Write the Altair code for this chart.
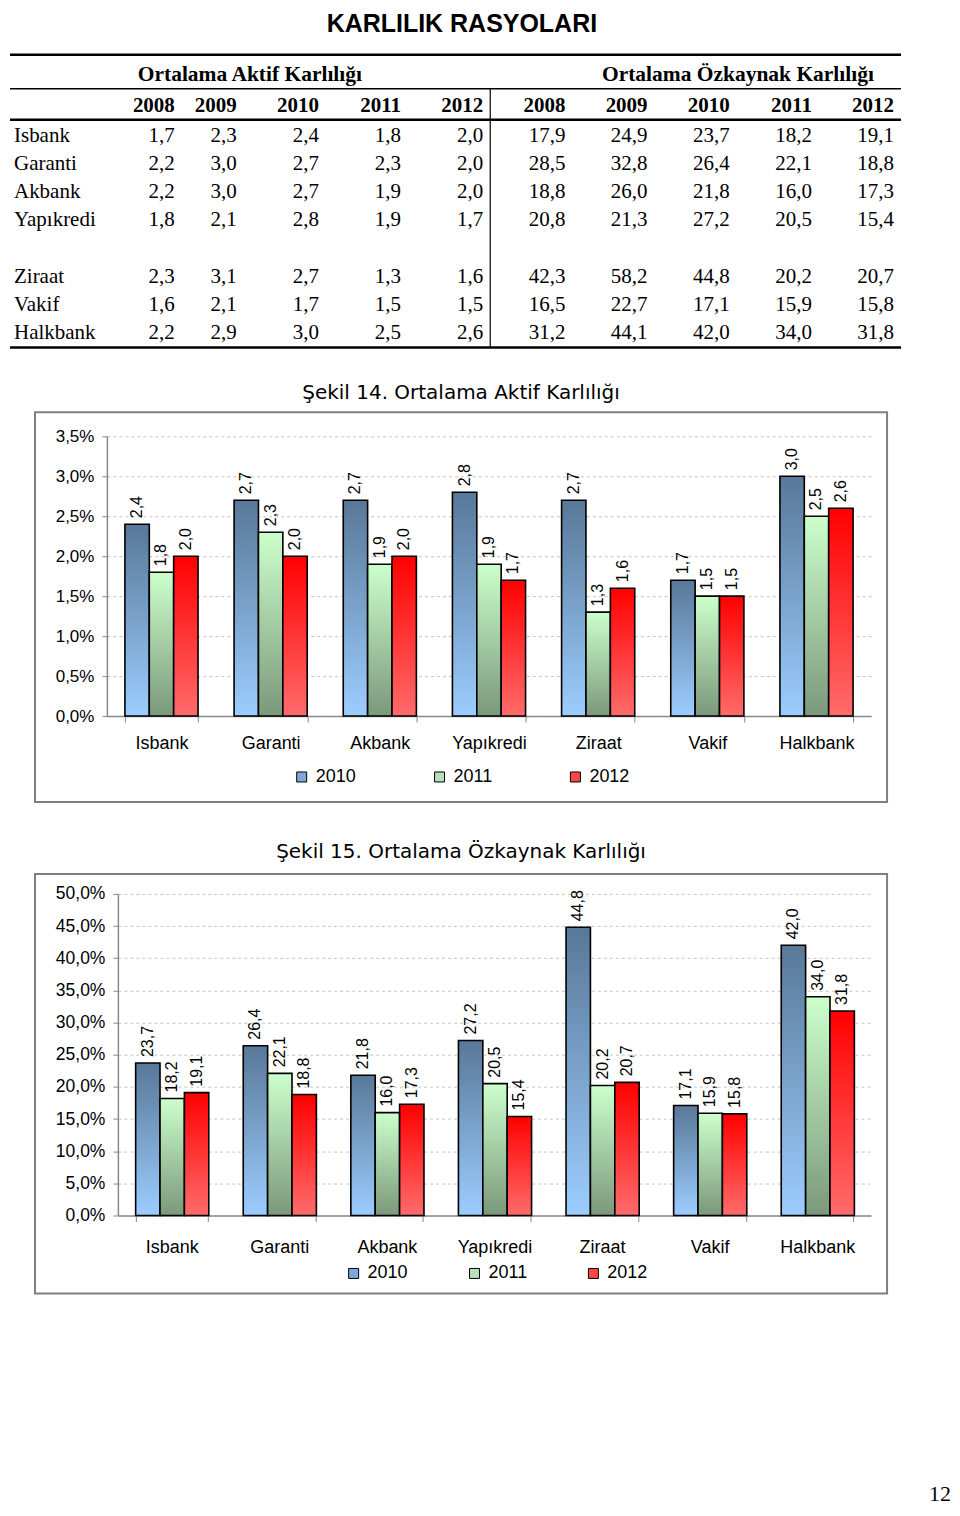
import altair as alt
import pandas as pd

# ---------------- data ----------------
BANKS = ["Isbank", "Garanti", "Akbank", "Yapıkredi", "Ziraat", "Vakif", "Halkbank"]
YEARS = ["2008", "2009", "2010", "2011", "2012"]
CHART_YEARS = ["2010", "2011", "2012"]

AKTIF_2008 = [1.7, 2.2, 2.2, 1.8, 2.3, 1.6, 2.2]
AKTIF_2009 = [2.3, 3.0, 3.0, 2.1, 3.1, 2.1, 2.9]
AKTIF_2010 = [2.4, 2.7, 2.7, 2.8, 2.7, 1.7, 3.0]
AKTIF_2011 = [1.8, 2.3, 1.9, 1.9, 1.3, 1.5, 2.5]
AKTIF_2012 = [2.0, 2.0, 2.0, 1.7, 1.6, 1.5, 2.6]

OZK_2008 = [17.9, 28.5, 18.8, 20.8, 42.3, 16.5, 31.2]
OZK_2009 = [24.9, 32.8, 26.0, 21.3, 58.2, 22.7, 44.1]
OZK_2010 = [23.7, 26.4, 21.8, 27.2, 44.8, 17.1, 42.0]
OZK_2011 = [18.2, 22.1, 16.0, 20.5, 20.2, 15.9, 34.0]
OZK_2012 = [19.1, 18.8, 17.3, 15.4, 20.7, 15.8, 31.8]

PAGE_TITLE = "KARLILIK RASYOLARI"
HEAD_AKTIF = "Ortalama Aktif Karlılığı"
HEAD_OZK = "Ortalama Özkaynak Karlılığı"
FIG14 = "Şekil 14. Ortalama Aktif Karlılığı"
FIG15 = "Şekil 15. Ortalama Özkaynak Karlılığı"
PAGE_NO = "12"

AKTIF = [AKTIF_2008, AKTIF_2009, AKTIF_2010, AKTIF_2011, AKTIF_2012]
OZK = [OZK_2008, OZK_2009, OZK_2010, OZK_2011, OZK_2012]


def fmt(v):
    return f"{v:.1f}".replace(".", ",")


SERIF = "Liberation Serif"
SANS = "Liberation Sans"

# ---------------- table ----------------
cells = []
for i, b in enumerate(BANKS):
    r = i if i < 4 else i + 1
    cells.append({"t": b, "col": 0, "row": r, "kind": "name"})
    for j, s in enumerate(AKTIF):
        cells.append({"t": fmt(s[i]), "col": 1 + j, "row": r, "kind": "val"})
    for j, s in enumerate(OZK):
        cells.append({"t": fmt(s[i]), "col": 6 + j, "row": r, "kind": "val"})
for j, y in enumerate(YEARS):
    cells.append({"t": y, "col": 1 + j, "row": -1, "kind": "year"})
    cells.append({"t": y, "col": 6 + j, "row": -1, "kind": "year"})
cells.append({"t": HEAD_AKTIF, "col": 2.16, "row": -2, "kind": "head"})
cells.append({"t": HEAD_OZK, "col": 8.1, "row": -2, "kind": "head"})
cells.append({"t": PAGE_TITLE, "col": 4.74, "row": -2.96, "kind": "title"})
cells_df = pd.DataFrame(cells)

XT = alt.Scale(domain=[0, 1, 2, 10], range=[-21, 140, 202, 860], zero=False, nice=False)
YT = alt.Scale(domain=[-3, -2.5, -2, -1.5, -1, -0.5, 0, 7, 7.5],
               range=[0, 46, 66, 80, 97, 111, 127, 325, 339], zero=False, nice=False)

tbase = alt.Chart(cells_df).encode(
    x=alt.X("col:Q", scale=XT, axis=None),
    y=alt.Y("row:Q", scale=YT, axis=None),
    text="t:N",
)
t_title = tbase.mark_text(align="center", baseline="top", font=SANS, fontSize=25,
                          fontWeight="bold", color="black").transform_filter("datum.kind == 'title'")
t_head = tbase.mark_text(align="center", baseline="middle", font=SERIF, fontSize=21.5,
                         fontWeight="bold", color="black").transform_filter("datum.kind == 'head'")
t_year = tbase.mark_text(align="right", baseline="middle", font=SERIF, fontSize=21,
                         fontWeight="bold", color="black").transform_filter("datum.kind == 'year'")
t_name = tbase.mark_text(align="left", baseline="middle", font=SERIF, fontSize=21,
                         color="black").transform_filter("datum.kind == 'name'")
t_val = tbase.mark_text(align="right", baseline="middle", font=SERIF, fontSize=21,
                        color="black").transform_filter("datum.kind == 'val'")

hrules = pd.DataFrame({"row": [-2.5, -1.5, -0.5, 7.5], "c1": [-0.025] * 4,
                       "c2": [10.085] * 4, "w": [2.5, 1.5, 2.5, 2.5]})
vrule = pd.DataFrame({"c": [5.085], "r1": [-1.5], "r2": [7.5]})

t_hr = alt.Chart(hrules).mark_rule(color="black").encode(
    x=alt.X("c1:Q", scale=XT, axis=None), x2="c2:Q",
    y=alt.Y("row:Q", scale=YT, axis=None),
    strokeWidth=alt.StrokeWidth("w:Q", scale=None),
)
t_vr = alt.Chart(vrule).mark_rule(color="black", strokeWidth=1.2).encode(
    x=alt.X("c:Q", scale=XT, axis=None),
    y=alt.Y("r1:Q", scale=YT, axis=None), y2="r2:Q",
)

table = alt.layer(t_hr, t_vr, t_title, t_head, t_year, t_name, t_val).properties(
    width=853, height=341, view=alt.ViewBackground(strokeOpacity=0)
)

# ---------------- bar charts ----------------
GRADS = {
    "2010": ("#587898", "#9ccdff"),
    "2011": ("#ccffcc", "#7b987b"),
    "2012": ("#ff0000", "#ff6b6b"),
}
LEGEND_COLORS = ["#7fa8d8", "#b8e0b8", "#ff4545"]


def grad(top, bottom):
    return {"gradient": "linear", "x1": 0, "y1": 0, "x2": 0, "y2": 1,
            "stops": [{"offset": 0, "color": top}, {"offset": 1, "color": bottom}]}


def bar_chart(series, ymax, ystep, view_h, ax_x, ax_y0, ax_ytop, ylab_size,
              legend, title, title_off, lab_pad, extra=None):
    rows = []
    for k, y in enumerate(CHART_YEARS):
        for i, b in enumerate(BANKS):
            v = series[k][i]
            rows.append({"bank": b, "year": y, "value": v, "lbl": fmt(v)})
    df = pd.DataFrame(rows)
    nticks = int(round(ymax / ystep))
    yvals = [round(ystep * i, 2) for i in range(nticks + 1)]

    base = alt.Chart(df).encode(
        x=alt.X("bank:N", sort=BANKS, title=None,
                scale=alt.Scale(range=[ax_x, 837], paddingInner=0.33, paddingOuter=0.165),
                axis=alt.Axis(labelAngle=0, offset=-(view_h - ax_y0), tickBand="extent",
                              tickSize=6, tickColor="#888888", domainColor="#888888",
                              domainWidth=1.5, labelFont=SANS, labelFontSize=18,
                              labelColor="black", labelPadding=lab_pad, grid=False)),
        xOffset=alt.XOffset("year:N", sort=CHART_YEARS,
                            scale=alt.Scale(paddingInner=0, paddingOuter=0)),
        y=alt.Y("value:Q", title=None,
                scale=alt.Scale(domain=[0, ymax], range=[ax_y0, ax_ytop], nice=False, zero=True),
                axis=alt.Axis(values=yvals, offset=-ax_x,
                              labelExpr="replace(format(datum.value, '.1f'), '.', ',') + '%'",
                              grid=True, gridDash=[3, 3], gridColor="#c4c4c4", gridWidth=1,
                              domainColor="#888888", domainWidth=1.5, tickColor="#888888",
                              tickSize=5, labelFont=SANS, labelFontSize=ylab_size,
                              labelColor="black", labelPadding=8)),
    )
    bars = base.mark_bar(stroke="black", strokeWidth=1.6).encode(
        fill=alt.Fill("year:N", sort=CHART_YEARS,
                      scale=alt.Scale(domain=CHART_YEARS, range=LEGEND_COLORS),
                      legend=legend,
                      condition=[{"test": f"datum.year === '{y}'", "value": grad(*GRADS[y])}
                                 for y in CHART_YEARS])
    )
    labels = base.mark_text(angle=270, align="left", baseline="middle", dx=6,
                            font=SANS, fontSize=16, color="black").encode(text="lbl:N")
    layers = [bars, labels]
    if extra is not None:
        layers.append(extra)
    return alt.layer(*layers).properties(
        width=853, height=view_h,
        view=alt.ViewBackground(stroke="#7f7f7f", strokeWidth=2),
        title=alt.TitleParams(title, font="DejaVu Sans", fontSize=20, fontWeight="normal",
                              color="black", anchor="middle", frame="group", offset=title_off),
    )


leg1 = alt.Legend(orient="none", legendX=258, legendY=356, direction="horizontal",
                  title=" ", titleOrient="bottom", titleFontSize=17, titlePadding=5,
                  symbolType="square", symbolSize=100, symbolStrokeColor="black",
                  symbolStrokeWidth=1, labelFont=SANS, labelFontSize=18, labelColor="black",
                  labelOffset=5, columnPadding=74, padding=0)
leg2 = alt.Legend(orient="none", legendX=310, legendY=391, direction="horizontal",
                  title=None, symbolType="square", symbolSize=100, symbolStrokeColor="black",
                  symbolStrokeWidth=1, labelFont=SANS, labelFontSize=18, labelColor="black",
                  labelOffset=5, columnPadding=57, padding=0)

page_no = alt.Chart(pd.DataFrame({"t": [PAGE_NO]})).mark_text(
    align="right", baseline="middle", font=SERIF, fontSize=22, color="black"
).encode(text="t:N", x=alt.value(917), y=alt.value(621))

ch1 = bar_chart([AKTIF_2010, AKTIF_2011, AKTIF_2012], 3.5, 0.5, 390, 72, 304, 24, 17,
                leg1, FIG14, 9, 12)
ch2 = bar_chart([OZK_2010, OZK_2011, OZK_2012], 50, 5, 420, 83, 342, 20, 17.5,
                leg2, FIG15, 12, 17, extra=page_no)

chart = (
    alt.vconcat(table, ch1, ch2, spacing=33)
    .resolve_scale(fill="independent")
    .resolve_legend(fill="independent")
    .properties(padding=0)
    .configure(background="white")
)

chart.save("out.html", embed_options={"renderer": "svg", "actions": False})
